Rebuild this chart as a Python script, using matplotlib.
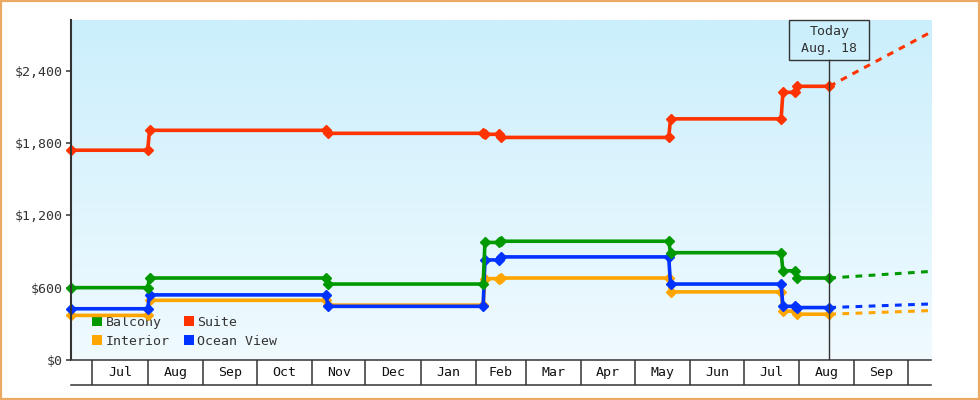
import matplotlib
matplotlib.use('Agg')
import matplotlib.pyplot as plt
import matplotlib.dates as mdates
import matplotlib.ticker as plticker
import matplotlib.transforms as mtrans
from matplotlib.colors import LinearSegmentedColormap
from matplotlib.lines import Line2D
from matplotlib.patches import Rectangle
import numpy as np
from datetime import datetime

# observed price change points (last day at old price, first day at new price)
dates = ['2013-06-19', '2013-08-01', '2013-08-02', '2013-11-09', '2013-11-10',
         '2014-02-05', '2014-02-06', '2014-02-14', '2014-02-15', '2014-05-20',
         '2014-05-21', '2014-07-22', '2014-07-23', '2014-07-30', '2014-07-31',
         '2014-08-18']
suite = [1740, 1740, 1905, 1905, 1880, 1880, 1872, 1872, 1846, 1846,
         2000, 2000, 2220, 2220, 2270, 2270]
balcony = [600, 600, 680, 680, 630, 630, 975, 975, 985, 985,
           890, 890, 740, 740, 680, 680]
ocean_view = [425, 425, 540, 540, 445, 445, 830, 830, 855, 855,
              630, 630, 445, 445, 435, 435]
interior = [370, 370, 495, 495, 455, 455, 675, 675, 680, 680,
            565, 565, 405, 405, 380, 380]

# projection from today to end of range
proj_dates = ['2014-08-18', '2014-10-14']
suite_proj = [2270, 2720]
balcony_proj = [680, 735]
ocean_view_proj = [435, 465]
interior_proj = [380, 410]

today = '2014-08-18'
today_label = 'Today\nAug. 18'
y_ticks = [0, 600, 1200, 1800, 2400]

colors = {'Balcony': '#009900', 'Suite': '#ff3300',
          'Interior': '#ffa500', 'Ocean View': '#0033ff'}

FONT = 'DejaVu Sans Mono'
FS = 9.5
DARK = '#333333'


def to_dt(lst):
  return [datetime.strptime(d, '%Y-%m-%d') for d in lst]


fig = plt.figure(figsize=(9.8, 4), dpi=100)
fig.patch.set_facecolor('white')
fig.patches.append(Rectangle((0, 0), 1, 1, transform=fig.transFigure, fill=False,
                             edgecolor='#eba963', linewidth=3))

L, B, W, H = 71 / 980, 40 / 400, 860 / 980, 340 / 400
ax = fig.add_axes([L, B, W, H])

# gradient background
cmap = LinearSegmentedColormap.from_list('bg', ['#f0faff', '#cbeffc'])
ax.imshow(np.linspace(0, 1, 256).reshape(-1, 1), cmap=cmap, aspect='auto',
          extent=[0, 1, 0, 1], transform=ax.transAxes, origin='lower', zorder=0)

x = to_dt(dates)
xp = to_dt(proj_dates)
series = [('Interior', interior, interior_proj),
          ('Ocean View', ocean_view, ocean_view_proj),
          ('Balcony', balcony, balcony_proj),
          ('Suite', suite, suite_proj)]
for name, vals, proj in series:
  c = colors[name]
  ax.plot(xp, proj, color=c, linewidth=2.2, linestyle=(0, (2.2, 2.1)),
          zorder=3, clip_on=False)
  ax.plot(x, vals, color=c, linewidth=2.6, marker='D', markersize=5.2,
          markeredgewidth=1, markeredgecolor=c, zorder=4, clip_on=False)

x0 = datetime(2013, 6, 19)
x1 = datetime(2014, 10, 14)
ax.set_xlim(x0, x1)
ax.set_ylim(0, 2820)

for s in ['top', 'right', 'bottom']:
  ax.spines[s].set_visible(False)
ax.spines['left'].set_color(DARK)
ax.spines['left'].set_linewidth(1.5)
ax.spines['left'].set_zorder(5)
ax.set_yticks(y_ticks)
ax.yaxis.set_major_formatter(plticker.FuncFormatter(lambda v, p: '${:,.0f}'.format(v)))
ax.tick_params(axis='y', length=3.6, width=1.1, color=DARK, pad=2,
               labelsize=FS, labelcolor=DARK)
for lab in ax.get_yticklabels():
  lab.set_fontfamily(FONT)
ax.set_xticks([])

# today marker
td = mdates.date2num(datetime.strptime(today, '%Y-%m-%d'))
box_h = 40 / 340
box_w = 80 / (860 / (mdates.date2num(x1) - mdates.date2num(x0)))
blend = mtrans.blended_transform_factory(ax.transData, ax.transAxes)
ax.add_patch(Rectangle((td - box_w / 2, 1 - box_h), box_w, box_h, transform=blend,
                       facecolor='none', edgecolor=DARK, linewidth=1, zorder=6,
                       clip_on=False))
ax.text(td, 1 - box_h / 2, today_label, transform=blend, ha='center', va='center',
        fontsize=FS, family=FONT, color=DARK, linespacing=1.35, zorder=6)
ax.axvline(td, ymin=0, ymax=1 - box_h, color=DARK, linewidth=1, zorder=5)

# legend
handles = [Line2D([], [], marker='s', linestyle='none', markersize=7.7,
                  markeredgewidth=0, color=colors[n])
           for n in ['Balcony', 'Interior', 'Suite', 'Ocean View']]
leg = ax.legend(handles, ['Balcony', 'Interior', 'Suite', 'Ocean View'], ncol=2,
                loc='upper left', bbox_to_anchor=(0.017, 0.149), frameon=False,
                borderpad=0, handlelength=0.8, handletextpad=0.25,
                columnspacing=1.0, labelspacing=0.45,
                prop={'family': FONT, 'size': FS})
for t in leg.get_texts():
  t.set_color(DARK)
leg.set_zorder(2)

# month band under the plot
ax2 = fig.add_axes([L, 15 / 400, W, 25 / 400], sharex=ax)
ax2.set_facecolor('white')
ax2.set_ylim(0, 1)
for s in ['left', 'right']:
  ax2.spines[s].set_visible(False)
for s in ['top', 'bottom']:
  ax2.spines[s].set_color(DARK)
  ax2.spines[s].set_linewidth(1.1)
ax2.tick_params(left=False, bottom=False, labelleft=False, labelbottom=False)

months = []
y, m = 2013, 7
while datetime(y, m, 1) <= x1:
  months.append(datetime(y, m, 1))
  m += 1
  if m > 12:
    m, y = 1, y + 1
for i, ms in enumerate(months):
  ax2.axvline(ms, color=DARK, linewidth=1.1)
  if i + 1 < len(months):
    mid = mdates.num2date((mdates.date2num(ms) + mdates.date2num(months[i + 1])) / 2)
    ax2.text(mid, 0.5, ms.strftime('%b'), ha='center', va='center',
             fontsize=FS, family=FONT, color='#111111')
ax2.set_xlim(x0, x1)

fig.savefig('out.png', dpi=100)
